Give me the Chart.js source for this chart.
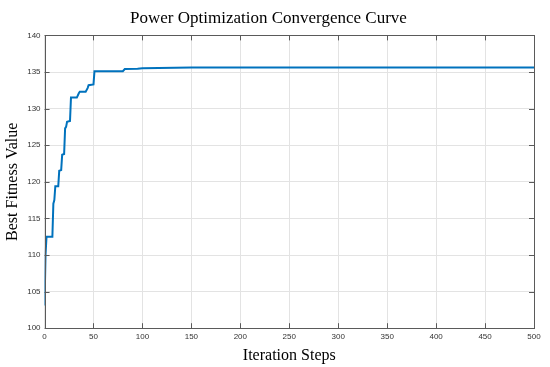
<!DOCTYPE html>
<html>
<head>
<meta charset="utf-8">
<script src="https://cdn.jsdelivr.net/npm/chart.js@4"></script>
<style>
  html, body { margin: 0; padding: 0; background: #fff; }
  #wrap { width: 550px; height: 367px; }
</style>
</head>
<body>
<div id="wrap"><canvas id="c" width="550" height="367"></canvas></div>
<script>
const chartTitle = "Power Optimization Convergence Curve";
const xTitle = "Iteration Steps";
const yTitle = "Best Fitness Value";
const iterations = [0, 1, 2, 8, 9, 10, 11, 14, 15, 17, 18, 20, 21, 22, 23, 26, 27, 33, 35, 36, 42, 44, 45, 50, 51, 80, 82, 95, 100, 150, 500];
const fitness = [103.1, 110.0, 112.5, 112.5, 117.0, 117.5, 119.4, 119.4, 121.5, 121.6, 123.7, 123.8, 127.3, 127.5, 128.2, 128.3, 131.5, 131.5, 132.1, 132.3, 132.3, 132.8, 133.2, 133.3, 135.1, 135.1, 135.4, 135.45, 135.5, 135.6, 135.6];
const xTicks = [0, 50, 100, 150, 200, 250, 300, 350, 400, 450, 500];
const yTicks = [100, 105, 110, 115, 120, 125, 130, 135, 140];

const points = iterations.map((x, i) => ({ x: x, y: fitness[i] }));

const boxPlugin = {
  id: 'box',
  afterDraw(chart) {
    const a = chart.chartArea, ctx = chart.ctx;
    ctx.save();
    ctx.strokeStyle = '#5a5a5a';
    ctx.lineWidth = 1;
    ctx.strokeRect(Math.round(a.left) + 0.5, Math.round(a.top) + 0.5, Math.round(a.right - a.left), Math.round(a.bottom - a.top));
    const xs = chart.scales.x, ys = chart.scales.y;
    ctx.beginPath();
    xTicks.forEach(v => {
      const px = Math.round(xs.getPixelForValue(v)) + 0.5;
      ctx.moveTo(px, a.bottom); ctx.lineTo(px, a.bottom - 5);
      ctx.moveTo(px, a.top); ctx.lineTo(px, a.top + 5);
    });
    yTicks.forEach(v => {
      const py = Math.round(ys.getPixelForValue(v)) + 0.5;
      ctx.moveTo(a.left, py); ctx.lineTo(a.left + 5, py);
      ctx.moveTo(a.right, py); ctx.lineTo(a.right - 5, py);
    });
    ctx.stroke();
    ctx.restore();
  }
};

new Chart(document.getElementById('c'), {
  type: 'line',
  data: {
    datasets: [{
      data: points,
      borderColor: '#0072BD',
      borderWidth: 2,
      pointRadius: 0,
      fill: false,
      tension: 0
    }]
  },
  options: {
    responsive: false,
    animation: false,
    layout: { padding: { left: 3, right: 16, top: 4, bottom: 0 } },
    plugins: {
      legend: { display: false },
      tooltip: { enabled: false },
      title: {
        display: true,
        text: chartTitle,
        color: '#000',
        font: { family: 'Liberation Serif', size: 17, weight: 'normal' },
        padding: { top: 4, bottom: 7 }
      }
    },
    scales: {
      x: {
        type: 'linear',
        min: 0, max: 500,
        afterBuildTicks(s) { s.ticks = xTicks.map(v => ({ value: v })); },
        grid: { color: '#e3e3e3', drawTicks: false },
        border: { display: false },
        ticks: { color: '#333333', font: { family: 'Liberation Sans', size: 8 }, padding: 4, maxRotation: 0 },
        title: { display: true, text: xTitle, color: '#000', font: { family: 'Liberation Serif', size: 16 }, padding: { top: 0, bottom: 2 } }
      },
      y: {
        type: 'linear',
        min: 100, max: 140,
        afterBuildTicks(s) { s.ticks = yTicks.map(v => ({ value: v })); },
        grid: { color: '#e3e3e3', drawTicks: false },
        border: { display: false },
        ticks: { color: '#333333', font: { family: 'Liberation Sans', size: 8 }, padding: 4 },
        title: { display: true, text: yTitle, color: '#000', font: { family: 'Liberation Serif', size: 16 }, padding: { top: 0, bottom: 1 } }
      }
    }
  },
  plugins: [boxPlugin]
});
</script>
</body>
</html>
